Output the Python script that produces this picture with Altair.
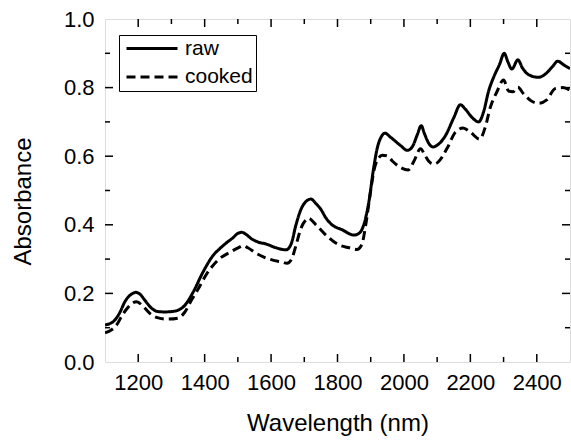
import altair as alt
import pandas as pd

# ---- data ----
raw_wl = [1100, 1125, 1145, 1160, 1180, 1193, 1205, 1220, 1240, 1260, 1280, 1300, 1320, 1340,
          1365, 1395, 1425, 1445, 1465, 1485, 1500, 1512, 1525, 1540, 1560, 1585, 1615, 1645,
          1660, 1675, 1690, 1705, 1720, 1735, 1750, 1765, 1780, 1815, 1850, 1868, 1882, 1895,
          1908, 1920, 1932, 1943, 1960, 1990, 2010, 2025, 2040, 2052, 2062, 2075, 2088, 2100,
          2125, 2150, 2170, 2185, 2205, 2225, 2240, 2255, 2270, 2288, 2302, 2313, 2325, 2343,
          2357, 2375, 2405, 2430, 2448, 2463, 2480, 2500]
raw_abs = [0.108, 0.118, 0.145, 0.176, 0.198, 0.203, 0.198, 0.180, 0.157, 0.147, 0.146, 0.147,
           0.151, 0.165, 0.203, 0.262, 0.310, 0.330, 0.347, 0.362, 0.375, 0.378, 0.372, 0.360,
           0.350, 0.344, 0.333, 0.327, 0.343, 0.400, 0.445, 0.468, 0.475, 0.462, 0.445, 0.420,
           0.403, 0.385, 0.370, 0.378, 0.410, 0.470, 0.560, 0.625, 0.657, 0.667, 0.655, 0.631,
           0.617, 0.627, 0.662, 0.689, 0.665, 0.637, 0.627, 0.632, 0.660, 0.712, 0.750, 0.737,
           0.713, 0.700, 0.730, 0.790, 0.830, 0.868, 0.900, 0.875, 0.854, 0.881, 0.857, 0.838,
           0.830, 0.843, 0.862, 0.877, 0.867, 0.855]

cooked_wl = [1100, 1120, 1135, 1150, 1170, 1195, 1215, 1235, 1255, 1285, 1320, 1340, 1360, 1380,
             1405, 1440, 1480, 1505, 1515, 1530, 1555, 1580, 1605, 1630, 1648, 1662, 1675, 1690,
             1705, 1712, 1735, 1765, 1805, 1835, 1858, 1873, 1885, 1897, 1910, 1922, 1935, 1950,
             1965, 1990, 2013, 2030, 2050, 2062, 2075, 2088, 2102, 2130, 2155, 2178, 2200, 2228,
             2245, 2260, 2280, 2300, 2315, 2328, 2343, 2360, 2385, 2405, 2430, 2455, 2478, 2500]
cooked_abs = [0.085, 0.094, 0.108, 0.133, 0.160, 0.176, 0.162, 0.142, 0.130, 0.125, 0.128, 0.145,
              0.180, 0.212, 0.255, 0.297, 0.322, 0.335, 0.339, 0.333, 0.317, 0.305, 0.297, 0.292,
              0.288, 0.300, 0.340, 0.390, 0.414, 0.419, 0.400, 0.370, 0.341, 0.333, 0.328, 0.342,
              0.400, 0.480, 0.560, 0.592, 0.603, 0.601, 0.586, 0.567, 0.560, 0.585, 0.622, 0.605,
              0.585, 0.577, 0.582, 0.623, 0.670, 0.682, 0.670, 0.650, 0.685, 0.742, 0.788, 0.822,
              0.790, 0.788, 0.801, 0.782, 0.760, 0.754, 0.764, 0.797, 0.800, 0.792]

series_names = ["raw", "cooked"]
x_labels = [1200, 1400, 1600, 1800, 2000, 2200, 2400]
x_minor = [1300, 1500, 1700, 1900, 2100, 2300]
y_labels = [0.0, 0.2, 0.4, 0.6, 0.8, 1.0]
y_major = [0.2, 0.4, 0.6, 0.8]
y_minor = [0.1, 0.3, 0.5, 0.7, 0.9]

W, H = 465, 343
FONT = "Liberation Sans"

df = pd.concat([
    pd.DataFrame({"wl": raw_wl, "A": raw_abs, "s": series_names[0]}),
    pd.DataFrame({"wl": cooked_wl, "A": cooked_abs, "s": series_names[1]}),
])

xs = alt.Scale(domain=[1100, 2500], nice=False, zero=False)
ys = alt.Scale(domain=[0, 1], nice=False)

lines = alt.Chart(df).mark_line(strokeWidth=3, color="black", interpolate="monotone", clip=True).encode(
    x=alt.X("wl:Q", scale=xs,
            axis=alt.Axis(title="Wavelength (nm)", values=x_labels, format="d", ticks=False,
                          domain=False, grid=False, labelFontSize=22, labelFont=FONT,
                          labelColor="black", labelBaseline="middle", labelPadding=20,
                          titleFont=FONT, titleFontSize=24, titleFontWeight="normal",
                          titleColor="black", titleBaseline="middle", titleY=61, titleX=W / 2)),
    y=alt.Y("A:Q", scale=ys,
            axis=alt.Axis(title="Absorbance", values=y_labels, format=".1f", ticks=False,
                          domain=False, grid=False, labelFontSize=22, labelFont=FONT,
                          labelColor="black", labelPadding=11,
                          titleFont=FONT, titleFontSize=24, titleFontWeight="normal",
                          titleColor="black", titleAngle=-90, titleBaseline="middle",
                          titleAlign="center", titleX=-82, titleY=182)),
    strokeDash=alt.StrokeDash("s:N", scale=alt.Scale(domain=series_names, range=[[1, 0], [9, 5]]),
                              legend=alt.Legend(title=None, orient="none", legendX=14, legendY=16,
                                                symbolType="stroke", symbolSize=2601,
                                                symbolStrokeWidth=3, symbolStrokeColor="black",
                                                symbolOffset=3, clipHeight=21, rowPadding=6.5,
                                                labelFontSize=21, labelFont=FONT, labelColor="black",
                                                labelOffset=6, padding=3, strokeColor="black",
                                                fillColor="white")),
)


def tick_layer(vals, field, length, side):
    d = pd.DataFrame({field: vals})
    c = alt.Chart(d).mark_rule(color="black", strokeWidth=1.5)
    if field == "wl":
        if side == "bottom":
            return c.encode(x=alt.X("wl:Q", scale=xs), y=alt.value(H), y2=alt.value(H - length))
        return c.encode(x=alt.X("wl:Q", scale=xs), y=alt.value(0), y2=alt.value(length))
    if side == "left":
        return c.encode(y=alt.Y("A:Q", scale=ys), x=alt.value(0), x2=alt.value(length))
    return c.encode(y=alt.Y("A:Q", scale=ys), x=alt.value(W), x2=alt.value(W - length))


ticks = []
for side in ["bottom", "top"]:
    ticks.append(tick_layer(x_labels, "wl", 8, side))
    ticks.append(tick_layer(x_minor, "wl", 5, side))
for side in ["left", "right"]:
    ticks.append(tick_layer(y_major, "A", 8, side))
    ticks.append(tick_layer(y_minor, "A", 5, side))

chart = alt.layer(lines, *ticks).properties(
    width=W, height=H,
    autosize="none",
    padding={"left": 105, "top": 19, "right": 1, "bottom": 81},
).configure_view(stroke="black", strokeWidth=1.5).configure(background="white")

chart.save("out.html", embed_options={"renderer": "svg", "actions": False})
